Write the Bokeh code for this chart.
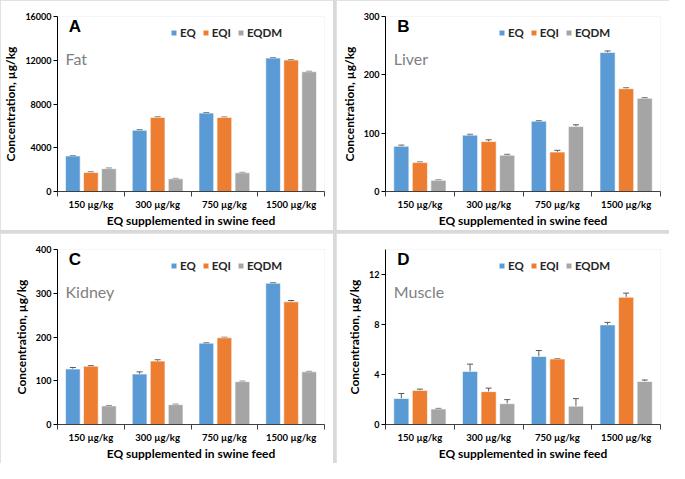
from bokeh.plotting import figure
from bokeh.models import (ColumnDataSource, Whisker, TeeHead, FixedTicker, Label,
                          Legend, LegendItem, Range1d)
from bokeh.layouts import gridplot
from bokeh.embed import file_html
from bokeh.resources import INLINE

# ---------------- data ----------------
doses = ["150 µg/kg", "300 µg/kg", "750 µg/kg", "1500 µg/kg"]
series = ["EQ", "EQI", "EQDM"]
colors = ["#5B9BD5", "#ED7D31", "#A5A5A5"]

fat_eq = [3250, 5600, 7170, 12200]
fat_eqi = [1740, 6770, 6770, 12020]
fat_eqdm = [2090, 1160, 1710, 10950]
fat_eq_err = [40, 50, 50, 40]
fat_eqi_err = [50, 50, 40, 40]
fat_eqdm_err = [50, 40, 40, 40]

liver_eq = [77.5, 96.6, 120.6, 238.4]
liver_eqi = [49.6, 85.6, 67.6, 176.2]
liver_eqdm = [19.1, 62.2, 111.3, 159.8]
liver_eq_err = [2.0, 1.5, 1.0, 2.5]
liver_eqi_err = [1.0, 3.0, 3.0, 1.5]
liver_eqdm_err = [0.8, 1.5, 3.0, 1.0]

kidney_eq = [126.8, 115.3, 185.9, 322.9]
kidney_eqi = [133.3, 144.9, 198.2, 280.4]
kidney_eqdm = [42.5, 45.4, 98.0, 120.4]
kidney_eq_err = [3.5, 5.0, 1.0, 1.2]
kidney_eqi_err = [1.5, 3.0, 1.2, 3.0]
kidney_eqdm_err = [1.0, 1.0, 1.0, 1.0]

muscle_eq = [2.08, 4.25, 5.44, 7.97]
muscle_eqi = [2.73, 2.63, 5.24, 10.18]
muscle_eqdm = [1.24, 1.67, 1.47, 3.44]
muscle_eq_err = [0.40, 0.58, 0.48, 0.20]
muscle_eqi_err = [0.10, 0.28, 0.03, 0.33]
muscle_eqdm_err = [0.05, 0.32, 0.60, 0.12]

panels = [
    ("A", "Fat", [fat_eq, fat_eqi, fat_eqdm], [fat_eq_err, fat_eqi_err, fat_eqdm_err],
     16000, [0, 4000, 8000, 12000, 16000]),
    ("B", "Liver", [liver_eq, liver_eqi, liver_eqdm], [liver_eq_err, liver_eqi_err, liver_eqdm_err],
     300, [0, 100, 200, 300]),
    ("C", "Kidney", [kidney_eq, kidney_eqi, kidney_eqdm], [kidney_eq_err, kidney_eqi_err, kidney_eqdm_err],
     400, [0, 100, 200, 300, 400]),
    ("D", "Muscle", [muscle_eq, muscle_eqi, muscle_eqdm], [muscle_eq_err, muscle_eqi_err, muscle_eqdm_err],
     14, [0, 4, 8, 12]),
]

W, H = 333, 230
FONT = "Lato"
offsets = [-0.27, 0.0, 0.27]
TOP, BOTTOM = 16, 34
FRAME_H = 175


def make_panel(letter, tissue, vals, errs, ymax, yticks):
    p = figure(width=W, height=H, x_range=Range1d(0, len(doses)), y_range=Range1d(0, ymax),
               output_backend="svg", toolbar_location=None,
               min_border_left=49, min_border_right=9, min_border_top=TOP, min_border_bottom=BOTTOM)
    p.xgrid.visible = False
    p.ygrid.visible = False
    p.outline_line_color = None
    p.border_fill_color = "white"
    p.background_fill_color = "white"

    items = []
    for s, (name, col) in enumerate(zip(series, colors)):
        xs = [i + 0.5 + offsets[s] for i in range(len(doses))]
        up = [v + e for v, e in zip(vals[s], errs[s])]
        lo = [v - e for v, e in zip(vals[s], errs[s])]
        src = ColumnDataSource(dict(x=xs, top=vals[s], upper=up, lower=lo))
        r = p.vbar(x="x", top="top", bottom=0, width=0.22, source=src,
                   fill_color=col, line_color="white", line_alpha=0.6, line_width=1)
        w = Whisker(base="x", upper="upper", lower="lower", source=src,
                    line_color="#595959", line_width=1,
                    upper_head=TeeHead(size=6, line_color="#595959", line_width=1),
                    lower_head=TeeHead(size=6, line_color="#595959", line_width=1))
        p.add_layout(w)
        items.append(LegendItem(label=name, renderers=[r]))

    legend = Legend(items=items, orientation="horizontal", location=(113, FRAME_H - 23),
                    padding=0, margin=0, spacing=6, label_standoff=3,
                    glyph_width=7, glyph_height=7, label_height=12, label_width=10,
                    border_line_color=None, background_fill_alpha=0,
                    label_text_font=FONT, label_text_font_size="11.5px",
                    label_text_font_style="bold", label_text_color="#262626")
    p.add_layout(legend)

    p.add_layout(Label(x=0.17, y=ymax * 0.945, text=letter, text_font="Liberation Sans",
                       text_font_size="17px", text_font_style="bold", text_color="black",
                       text_align="left", text_baseline="middle"))
    p.add_layout(Label(x=0.12, y=ymax * 0.76, text=tissue, text_font=FONT,
                       text_font_size="16px", text_color="#7F7F7F",
                       text_align="left", text_baseline="middle"))

    # y axis
    ya = p.yaxis[0]
    ya.ticker = FixedTicker(ticks=yticks)
    ya.major_tick_in = 0
    ya.major_tick_out = 4
    ya.minor_tick_in = 0
    ya.minor_tick_out = 0
    ya.axis_line_color = "black"
    ya.major_tick_line_color = "black"
    ya.major_label_text_font = FONT
    ya.major_label_text_font_size = "9px"
    ya.major_label_text_font_style = "bold"
    ya.major_label_text_color = "black"
    ya.major_label_standoff = 2
    ya.axis_label = "Concentration, µg/kg"
    ya.axis_label_text_font = FONT
    ya.axis_label_text_font_size = "12px"
    ya.axis_label_text_font_style = "bold"
    ya.axis_label_text_color = "black"
    ya.axis_label_standoff = 4

    # x axis
    xa = p.xaxis[0]
    centers = [i + 0.5 for i in range(len(doses))]
    xa.ticker = FixedTicker(ticks=centers, minor_ticks=list(range(len(doses) + 1)))
    xa.major_label_overrides = {c: d for c, d in zip(centers, doses)}
    xa.major_tick_in = 0
    xa.major_tick_out = 0
    xa.minor_tick_in = 0
    xa.minor_tick_out = 5
    xa.minor_tick_line_color = "#404040"
    xa.axis_line_color = "#404040"
    xa.major_label_text_font = FONT
    xa.major_label_text_font_size = "9.5px"
    xa.major_label_text_font_style = "bold"
    xa.major_label_text_color = "black"
    xa.major_label_standoff = 2
    xa.axis_label = "EQ supplemented in swine feed"
    xa.axis_label_text_font = FONT
    xa.axis_label_text_font_size = "12px"
    xa.axis_label_text_font_style = "bold"
    xa.axis_label_text_color = "black"
    xa.axis_label_standoff = 0
    return p


figs = [make_panel(*pn) for pn in panels]
grid = gridplot([[figs[0], figs[1]], [figs[2], figs[3]]], toolbar_location=None)
grid.spacing = 3
grid.styles = {"background-color": "#d9d9d9"}

open("out.html", "w").write(file_html(grid, INLINE))
